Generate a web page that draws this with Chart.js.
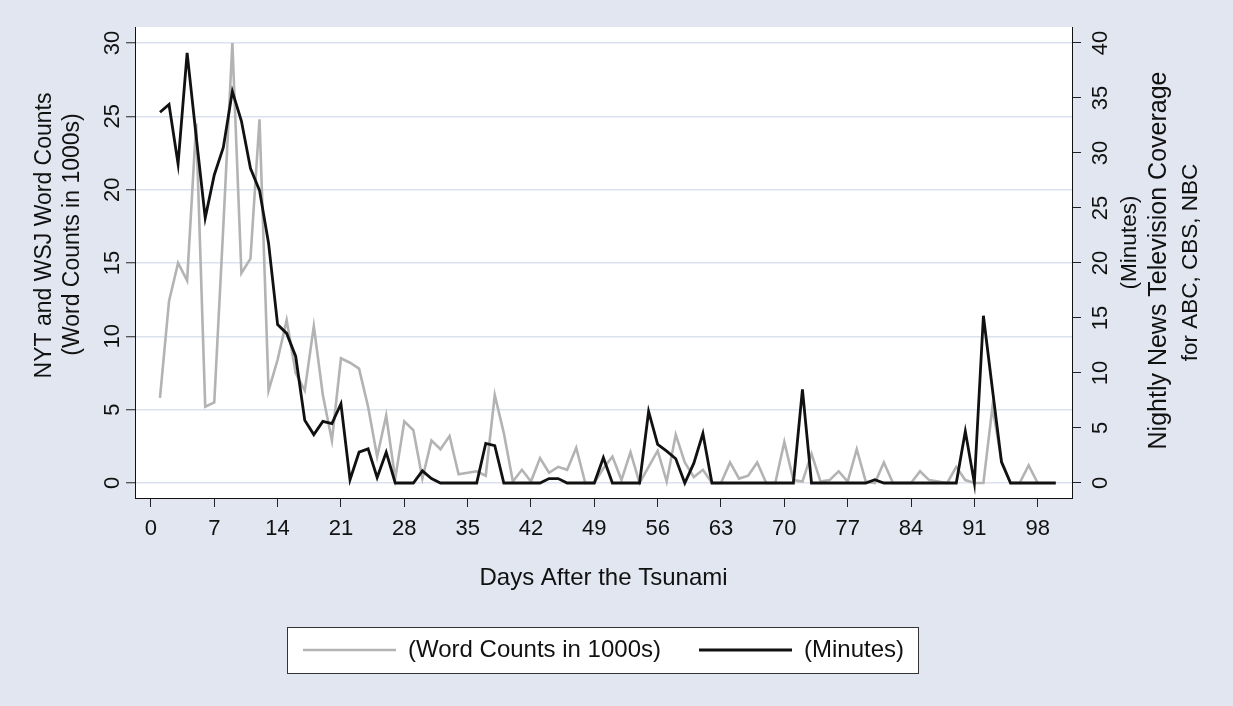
<!DOCTYPE html>
<html>
<head>
<meta charset="utf-8">
<title>Tsunami Coverage</title>
<script src="https://cdn.jsdelivr.net/npm/chart.js@4.4.1/dist/chart.umd.min.js"></script>
<style>
    html, body { margin: 0; padding: 0; background: #e1e6f0; }
    #wrap { width: 1233px; height: 706px; }
</style>
</head>
<body>
<div id="wrap"><canvas id="tsunamiChart" width="1233" height="706"></canvas></div>
<script>
/* ===== DATA ===== */
const days = [
    1, 2, 3, 4, 5, 6, 7, 8, 9, 10, 11, 12, 13, 14, 15, 16, 17, 18, 19, 20,
    21, 22, 23, 24, 25, 26, 27, 28, 29, 30, 31, 32, 33, 34, 35, 36, 37, 38, 39, 40,
    41, 42, 43, 44, 45, 46, 47, 48, 49, 50, 51, 52, 53, 54, 55, 56, 57, 58, 59, 60,
    61, 62, 63, 64, 65, 66, 67, 68, 69, 70, 71, 72, 73, 74, 75, 76, 77, 78, 79, 80,
    81, 82, 83, 84, 85, 86, 87, 88, 89, 90, 91, 92, 93, 94, 95, 96, 97, 98, 99, 100
];

// NYT and WSJ word counts, in 1000s (days 1-98)
const wordCounts = [
    5.8, 12.4, 15.0, 13.8, 24.5, 5.2, 5.5, 17.5, 30.0, 14.3,
    15.3, 24.8, 6.3, 8.4, 11.1, 7.5, 6.3, 10.7, 6.0, 2.9,
    8.5, 8.2, 7.8, 5.2, 1.8, 4.6, 0.3, 4.2, 3.6, 0.3,
    2.9, 2.3, 3.2, 0.6, 0.7, 0.8, 0.5, 6.0, 3.4, 0.1,
    0.9, 0.1, 1.7, 0.7, 1.1, 0.9, 2.4, 0.0, 0.0, 1.0,
    1.8, 0.2, 2.1, 0.0, 1.1, 2.2, 0.1, 3.3, 1.4, 0.4,
    0.9, 0.0, 0.0, 1.4, 0.3, 0.5, 1.4, 0.0, 0.0, 2.8,
    0.2, 0.1, 2.0, 0.1, 0.2, 0.8, 0.1, 2.3, 0.1, 0.0,
    1.4, 0.0, 0.0, 0.0, 0.8, 0.2, 0.1, 0.0, 1.1, 0.2,
    0.0, 0.0, 5.2, 1.5, 0.0, 0.0, 1.2, 0.0
];

// Nightly news minutes, ABC + CBS + NBC (days 1-100)
const tvMinutes = [
    33.7, 34.4, 29.0, 39.1, 31.5, 24.1, 28.0, 30.5, 35.6, 32.9,
    28.6, 26.6, 21.8, 14.4, 13.6, 11.5, 5.7, 4.4, 5.6, 5.4,
    7.2, 0.3, 2.8, 3.1, 0.5, 2.8, 0.0, 0.0, 0.0, 1.1,
    0.4, 0.0, 0.0, 0.0, 0.0, 0.0, 3.6, 3.4, 0.0, 0.0,
    0.0, 0.0, 0.0, 0.4, 0.4, 0.0, 0.0, 0.0, 0.0, 2.3,
    0.0, 0.0, 0.0, 0.0, 6.5, 3.5, 2.9, 2.2, 0.0, 1.8,
    4.5, 0.0, 0.0, 0.0, 0.0, 0.0, 0.0, 0.0, 0.0, 0.0,
    0.0, 8.5, 0.0, 0.0, 0.0, 0.0, 0.0, 0.0, 0.0, 0.3,
    0.0, 0.0, 0.0, 0.0, 0.0, 0.0, 0.0, 0.0, 0.0, 4.7,
    0.0, 15.2, 8.5, 1.9, 0.0, 0.0, 0.0, 0.0, 0.0, 0.0
];

const dayTicks = [0, 7, 14, 21, 28, 35, 42, 49, 56, 63, 70, 77, 84, 91, 98];
const wordTicks = [0, 5, 10, 15, 20, 25, 30];
const minuteTicks = [0, 5, 10, 15, 20, 25, 30, 35, 40];

const seriesLabels = ['(Word Counts in 1000s)', '(Minutes)'];
const leftTitle = ['NYT and WSJ Word Counts', '(Word Counts in 1000s)'];
const rightTitle = ['(Minutes)', 'Nightly News Television Coverage', 'for ABC, CBS, NBC'];
const xTitle = 'Days After the Tsunami';

/* ===== STYLE ===== */
const FONT = 'Liberation Sans, Arial, Helvetica, sans-serif';
const BG = '#e1e6f0';
const INK = '#111111';
const GRAY_LINE = '#b3b3b3';
const GRID = '#dce2ed';

/* ===== HELPERS ===== */

/**
 * Turn a list of y values into {x, y} points using the day list
 */
function toPoints(values) {
    return values.map((v, i) => ({ x: days[i], y: v }));
}

/**
 * Replace the generated ticks of a scale by a fixed list
 */
function fixedTicks(list) {
    return function(scale) {
        scale.ticks = list.map(v => ({ value: v }));
    };
}

/**
 * Draw one text rotated to read bottom-to-top
 */
function drawUpText(ctx, text, x, y, size) {
    ctx.save();
    ctx.translate(x, y);
    ctx.rotate(-Math.PI / 2);
    ctx.font = size + 'px ' + FONT;
    ctx.fillStyle = INK;
    ctx.textAlign = 'center';
    ctx.textBaseline = 'middle';
    ctx.fillText(text, 0, 0);
    ctx.restore();
}

/* ===== PLUGINS ===== */

// background, white plot region and the framed legend
const backdrop = {
    id: 'backdrop',
    beforeDraw(chart) {
        const { ctx, chartArea: a } = chart;
        ctx.save();
        ctx.fillStyle = BG;
        ctx.fillRect(0, 0, chart.width, chart.height);
        ctx.fillStyle = '#ffffff';
        ctx.fillRect(a.left, a.top, a.right - a.left, a.bottom - a.top);

        const boxes = chart.legend && chart.legend.legendHitBoxes;
        if (boxes && boxes.length) {
            const first = boxes[0];
            const last = boxes[boxes.length - 1];
            const midY = first.top + first.height / 2;
            const x0 = Math.round(first.left - 16);
            const x1 = Math.round(last.left + last.width + 14);
            const y0 = Math.round(midY - 23);
            ctx.fillStyle = '#ffffff';
            ctx.fillRect(x0, y0, x1 - x0, 46);
            ctx.strokeStyle = '#333333';
            ctx.lineWidth = 1;
            ctx.strokeRect(x0 + 0.5, y0 + 0.5, x1 - x0, 46);
        }
        ctx.restore();
    }
};

// vertical axis titles (both sides read bottom-to-top)
const axisTitles = {
    id: 'axisTitles',
    afterDraw(chart) {
        const { ctx, chartArea: a } = chart;
        const midY = (a.top + a.bottom) / 2;
        drawUpText(ctx, leftTitle[0], a.left - 90, midY - 27, 23);
        drawUpText(ctx, leftTitle[1], a.left - 62, midY - 28, 23);
        drawUpText(ctx, rightTitle[0], a.right + 58, midY - 20, 22.5);
        drawUpText(ctx, rightTitle[1], a.right + 87, midY - 2, 25);
        drawUpText(ctx, rightTitle[2], a.right + 119, midY, 22.5);
    }
};

/* ===== CHART ===== */
const ctx = document.getElementById('tsunamiChart').getContext('2d');

const tsunamiChart = new Chart(ctx, {
    type: 'line',
    data: {
        datasets: [
            {
                label: seriesLabels[0],
                data: toPoints(wordCounts),
                yAxisID: 'yWords',
                borderColor: GRAY_LINE,
                backgroundColor: GRAY_LINE,
                borderWidth: 2.6,
                pointRadius: 0,
                tension: 0,
                order: 2
            },
            {
                label: seriesLabels[1],
                data: toPoints(tvMinutes),
                yAxisID: 'yMinutes',
                borderColor: INK,
                backgroundColor: INK,
                borderWidth: 2.8,
                pointRadius: 0,
                tension: 0,
                order: 1
            }
        ]
    },
    options: {
        responsive: false,
        devicePixelRatio: 1,
        animation: false,
        // legend: item row centred near y=650, x-axis fills the rest down from the plot
        layout: { padding: { left: 0, right: 0, top: 27, bottom: 34 } },
        plugins: {
            tooltip: { enabled: false },
            legend: {
                position: 'bottom',
                fullSize: false,
                labels: {
                    usePointStyle: true,
                    pointStyle: 'line',
                    pointStyleWidth: 93,
                    boxHeight: 24,
                    padding: 38,
                    color: INK,
                    font: { family: FONT, size: 24 },
                    sort: (a, b) => a.datasetIndex - b.datasetIndex
                }
            }
        },
        scales: {
            x: {
                type: 'linear',
                min: -1.76,
                max: 101.79,
                afterBuildTicks: fixedTicks(dayTicks),
                afterFit: s => { s.height = 102; },
                grid: { drawOnChartArea: false, drawTicks: true, tickLength: 9, tickColor: '#222' },
                border: { display: true, color: INK, width: 1 },
                ticks: {
                    autoSkip: false,
                    maxRotation: 0,
                    padding: 9,
                    color: INK,
                    font: { family: FONT, size: 22 }
                },
                title: {
                    display: true,
                    text: xTitle,
                    color: INK,
                    font: { family: FONT, size: 24 },
                    padding: { top: 0, bottom: 7 }
                }
            },
            yWords: {
                type: 'linear',
                position: 'left',
                min: -1.023,
                max: 31.09,
                afterBuildTicks: fixedTicks(wordTicks),
                afterFit: s => { s.width = 135; },
                grid: { color: GRID, lineWidth: 1.5, drawTicks: true, tickLength: 9, tickColor: '#222', tickWidth: 1 },
                border: { display: true, color: INK, width: 1 },
                ticks: {
                    minRotation: 90,
                    maxRotation: 90,
                    crossAlign: 'center',
                    padding: 1,
                    color: INK,
                    font: { family: FONT, size: 22 }
                }
            },
            yMinutes: {
                type: 'linear',
                position: 'right',
                min: -1.364,
                max: 41.45,
                afterBuildTicks: fixedTicks(minuteTicks),
                afterFit: s => { s.width = 161; },
                grid: { drawOnChartArea: false, drawTicks: true, tickLength: 9, tickColor: '#222' },
                border: { display: true, color: INK, width: 1 },
                ticks: {
                    minRotation: 90,
                    maxRotation: 90,
                    crossAlign: 'center',
                    padding: 8,
                    color: INK,
                    font: { family: FONT, size: 22 }
                }
            }
        }
    },
    plugins: [backdrop, axisTitles]
});
</script>
</body>
</html>
